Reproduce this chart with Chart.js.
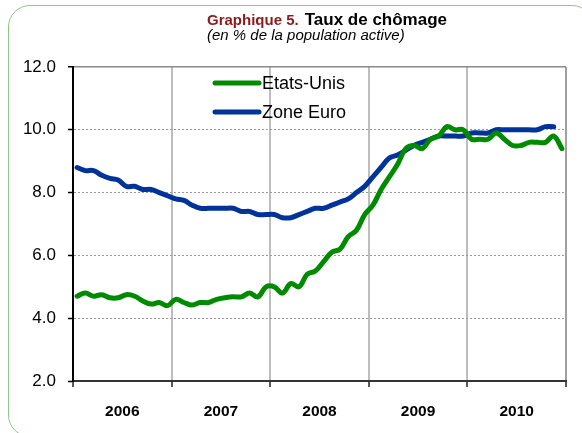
<!DOCTYPE html>
<html>
<head>
<meta charset="utf-8">
<script src="https://cdn.jsdelivr.net/npm/chart.js@4/dist/chart.umd.min.js"></script>
<style>
  html, body { margin: 0; padding: 0; background: #ffffff; overflow: hidden; }
  #wrap { position: relative; width: 582px; height: 433px; overflow: hidden; }
  #frame { position: absolute; left: 8px; top: 5px; width: 586px; height: 432px;
           border: 1px solid #8cc88c; border-radius: 22px; box-sizing: border-box; }
  canvas { position: absolute; left: 0; top: 0; }
</style>
</head>
<body>
<div id="wrap">
  <div id="frame"></div>
  <canvas id="c" width="582" height="433"></canvas>
</div>
<script>
// ---- Data (monthly, Jan 2006 – Dec 2010) ----
const years = ['2006', '2007', '2008', '2009', '2010'];
const yTicks = [2, 4, 6, 8, 10, 12];
const seriesNames = ['Etats-Unis', 'Zone Euro'];
const etatsUnis = [
  4.7, 4.8, 4.7, 4.75, 4.65, 4.65, 4.75, 4.7, 4.55, 4.45, 4.5, 4.4,
  4.6, 4.5, 4.42, 4.5, 4.5, 4.6, 4.65, 4.68, 4.68, 4.8, 4.68, 5.0,
  5.0, 4.8, 5.1, 5.0, 5.4, 5.5, 5.8, 6.1, 6.2, 6.6, 6.8, 7.3,
  7.6, 8.1, 8.5, 8.9, 9.4, 9.5, 9.4, 9.7, 9.8, 10.1, 10.0, 10.0,
  9.7, 9.7, 9.7, 9.9, 9.7, 9.5, 9.5, 9.6, 9.6, 9.6, 9.8, 9.4
];
const zoneEuro = [
  8.8, 8.7, 8.7, 8.55, 8.45, 8.4, 8.2, 8.2, 8.1, 8.1, 8.0, 7.9,
  7.8, 7.75, 7.6, 7.5, 7.5, 7.5, 7.5, 7.5, 7.4, 7.4, 7.3, 7.3,
  7.3, 7.2, 7.2, 7.3, 7.4, 7.5, 7.5, 7.6, 7.7, 7.8, 8.0, 8.2,
  8.5, 8.8, 9.1, 9.2, 9.35, 9.5, 9.6, 9.7, 9.8, 9.8, 9.8, 9.8,
  9.9, 9.9, 9.9, 10.0, 10.0, 10.0, 10.0, 10.0, 10.0, 10.1, 10.1, null
];

const toPoints = arr => arr.map((v, i) => ({ x: i + 0.5, y: v }));

const titlePlugin = {
  id: 'titlePlugin',
  afterDraw(chart) {
    const ctx = chart.ctx;
    ctx.save();
    ctx.textBaseline = 'alphabetic';
    ctx.textAlign = 'left';
    let x = 207;
    ctx.font = 'bold 15px "Liberation Sans", Arial, sans-serif';
    ctx.fillStyle = '#8b1a1a';
    const t1 = 'Graphique 5.';
    ctx.fillText(t1, x, 25);
    x += ctx.measureText(t1).width + 6;
    ctx.font = 'bold 17px "Liberation Sans", Arial, sans-serif';
    ctx.fillStyle = '#000000';
    ctx.fillText('Taux de chômage', x, 25);
    ctx.font = 'italic 15px "Liberation Sans", Arial, sans-serif';
    ctx.fillText('(en % de la population active)', 207, 40);
    ctx.restore();
  }
};

const legendPlugin = {
  id: 'legendPlugin',
  afterDatasetsDraw(chart) {
    const ctx = chart.ctx;
    ctx.save();
    const rows = [83, 112];
    chart.data.datasets.forEach((ds, i) => {
      const y = rows[i];
      ctx.strokeStyle = ds.borderColor;
      ctx.lineWidth = 5;
      ctx.lineCap = 'round';
      ctx.beginPath();
      ctx.moveTo(215, y);
      ctx.lineTo(259, y);
      ctx.stroke();
      ctx.fillStyle = '#000000';
      ctx.font = '18px "Liberation Sans", Arial, sans-serif';
      ctx.textBaseline = 'middle';
      ctx.textAlign = 'left';
      ctx.fillText(ds.label, 262, y + 1);
    });
    ctx.restore();
  }
};

new Chart(document.getElementById('c'), {
  type: 'line',
  data: {
    datasets: [
      { label: seriesNames[0], data: toPoints(etatsUnis), borderColor: '#008a00',
        backgroundColor: '#008a00', borderWidth: 5, pointRadius: 0, tension: 0.4,
        borderCapStyle: 'round', borderJoinStyle: 'round' },
      { label: seriesNames[1], data: toPoints(zoneEuro), borderColor: '#003399',
        backgroundColor: '#003399', borderWidth: 5, pointRadius: 0, tension: 0.4,
        borderCapStyle: 'round', borderJoinStyle: 'round', spanGaps: false }
    ]
  },
  options: {
    responsive: false,
    animation: false,
    layout: { padding: { left: 0, right: 16, top: 67, bottom: 0 } },
    plugins: { legend: { display: false }, title: { display: false }, tooltip: { enabled: false } },
    scales: {
      x: {
        type: 'linear', min: 0, max: years.length * 12,
        afterBuildTicks: s => { s.ticks = []; for (let v = 0; v <= years.length * 12; v += 6) s.ticks.push({ value: v }); },
        afterFit: s => { s.height = 52; },
        ticks: {
          autoSkip: false, maxRotation: 0, padding: 15,
          font: { family: '"Liberation Sans", Arial, sans-serif', size: 15.5, weight: 'bold' },
          color: '#000000',
          callback: v => (v % 12 === 6 ? years[(v - 6) / 12] : '')
        },
        grid: {
          drawOnChartArea: true, drawTicks: true, tickLength: 6,
          color: c => (c.tick && c.tick.value % 12 === 0 ? (c.tick.value === 60 ? '#a0a0a0' : '#bdbdbd') : 'rgba(0,0,0,0)'),
          lineWidth: c => (c.tick && c.tick.value % 12 === 0 ? 2 : 0),
          tickColor: c => (c.tick && c.tick.value % 12 === 0 ? '#222222' : 'rgba(0,0,0,0)'),
          tickWidth: 1.5
        },
        border: { display: true, color: '#333333', width: 2 }
      },
      y: {
        min: 2, max: 12,
        afterBuildTicks: s => { s.ticks = yTicks.map(v => ({ value: v })); },
        afterFit: s => { s.width = 73; },
        ticks: {
          padding: 12,
          font: { family: '"Liberation Sans", Arial, sans-serif', size: 17 },
          color: '#000000',
          callback: v => Number(v).toFixed(1)
        },
        grid: {
          tickLength: 5,
          color: c => (c.tick && c.tick.value === 12 ? '#8a8a8a' : '#9a9a9a'),
          lineWidth: c => (c.tick && c.tick.value === 12 ? 1.5 : 1),
          tickColor: '#000000',
          tickWidth: 1.5
        },
        border: {
          display: true, color: '#000000', width: 2,
          dash: c => (c.tick && c.tick.value !== 12 ? [2, 2] : [])
        }
      }
    }
  },
  plugins: [titlePlugin, legendPlugin]
});
</script>
</body>
</html>
